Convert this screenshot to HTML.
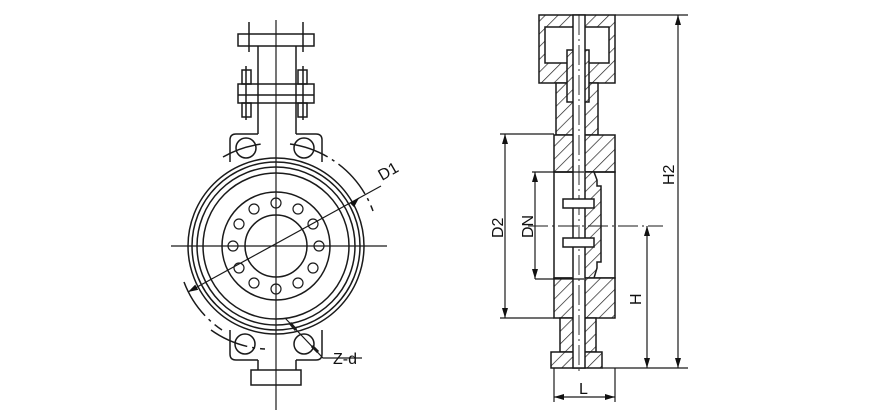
<!DOCTYPE html>
<html><head><meta charset="utf-8"><style>
html,body{margin:0;padding:0;background:#fff;}
svg{display:block;}
text{font-family:"Liberation Sans",sans-serif;fill:#111;}
</style></head><body>
<svg width="890" height="419" viewBox="0 0 890 419" xmlns="http://www.w3.org/2000/svg">
<defs>
<pattern id="h" patternUnits="userSpaceOnUse" width="9" height="9" patternTransform="rotate(45)">
<rect width="9" height="9" fill="#fff"/><line x1="0" y1="0" x2="0" y2="9" stroke="#222" stroke-width="1.4"/>
</pattern>
<marker id="a" markerWidth="10" markerHeight="6" refX="10" refY="3" orient="auto-start-reverse" markerUnits="userSpaceOnUse"><path d="M0,0 L10,3 L0,6 z" fill="#111"/></marker>
</defs>
<g fill="none" stroke="#1a1a1a" stroke-width="1.5">
<!-- LEFT VIEW -->
<rect x="238" y="34" width="76" height="12" fill="#fff"/>
<line x1="249" y1="22" x2="249" y2="52"/><line x1="303" y1="22" x2="303" y2="52"/>
<line x1="258" y1="46" x2="258" y2="134"/><line x1="296" y1="46" x2="296" y2="134"/>
<rect x="238" y="84" width="76" height="19"/><line x1="238" y1="95" x2="314" y2="95"/>
<rect x="242" y="70" width="9" height="14"/><rect x="298" y="70" width="9" height="14"/>
<rect x="242" y="103" width="9" height="14"/><rect x="298" y="103" width="9" height="14"/>
<line x1="246" y1="66" x2="246" y2="120"/><line x1="303" y1="66" x2="303" y2="120"/>
<path d="M258,134 H236 Q230,134 230,140 V162"/><path d="M296,134 H316 Q322,134 322,140 V162"/>
<circle cx="246" cy="148" r="10"/><circle cx="304" cy="148" r="10"/>
<path d="M258,360 H236 Q230,360 230,354 V330"/><path d="M296,360 H316 Q322,360 322,354 V330"/>
<circle cx="245" cy="344" r="10"/><circle cx="304" cy="344" r="10"/>
<line x1="258" y1="360" x2="258" y2="370"/><line x1="296" y1="360" x2="296" y2="370"/>
<rect x="251" y="370" width="50" height="15" fill="#fff"/>
<circle cx="276" cy="246" r="88" fill="#fff"/>
<circle cx="276" cy="246" r="84"/>
<circle cx="276" cy="246" r="79"/>
<circle cx="276" cy="246" r="73"/>
<circle cx="276" cy="246" r="54"/>
<circle cx="276" cy="246" r="31"/>
<g stroke-width="1.2">
<circle cx="319" cy="246" r="5"/><circle cx="313" cy="224" r="5"/><circle cx="298" cy="209" r="5"/>
<circle cx="276" cy="203" r="5"/><circle cx="254" cy="209" r="5"/><circle cx="239" cy="224" r="5"/>
<circle cx="233" cy="246" r="5"/><circle cx="239" cy="268" r="5"/><circle cx="254" cy="283" r="5"/>
<circle cx="276" cy="289" r="5"/><circle cx="298" cy="283" r="5"/><circle cx="313" cy="268" r="5"/>
</g>
<line x1="276" y1="20" x2="276" y2="410" stroke-width="1.2"/>
<line x1="171" y1="246" x2="387" y2="246" stroke-width="1.2"/>
<path d="M223,157 A103,103 0 0 1 262,144" stroke-dasharray="40 5 3 5"/>
<path d="M290,144 A103,103 0 0 1 373,211" stroke-dasharray="40 5 3 5"/>
<path d="M184,282 A100,100 0 0 0 222,330" stroke-dasharray="40 5 3 5"/>
<path d="M211,330 A103,103 0 0 0 265,349" stroke-dasharray="40 5 3 5"/>
<line x1="188" y1="292" x2="381" y2="186" marker-start="url(#a)" stroke-width="1.2"/>
<line x1="358" y1="199" x2="359" y2="198" marker-end="url(#a)" stroke-width="1.2"/>
<polyline points="285,318 323,358 362,358" stroke-width="1.2"/>
<line x1="290" y1="323" x2="296" y2="330" stroke-width="3"/>
<line x1="312" y1="346" x2="318" y2="352" stroke-width="3"/>
<!-- RIGHT VIEW -->
<rect x="539" y="15" width="76" height="68" fill="url(#h)"/>
<rect x="545" y="27" width="64" height="36" fill="#fff"/>
<rect x="556" y="83" width="42" height="52" fill="url(#h)"/>
<rect x="567" y="50" width="22" height="52" fill="url(#h)"/>
<rect x="554" y="135" width="61" height="37" fill="url(#h)"/>
<rect x="554" y="172" width="61" height="106"/>
<path d="M584,172 H594 L597,180 V186 H601 V262 H597 V268 L594,278 H584 Z" fill="url(#h)"/>
<rect x="554" y="278" width="61" height="40" fill="url(#h)"/>
<rect x="560" y="318" width="36" height="34" fill="url(#h)"/>
<rect x="551" y="352" width="51" height="16" fill="url(#h)"/>
<rect x="573" y="15" width="12" height="353" fill="#fff"/>
<line x1="579" y1="15" x2="579" y2="375" stroke-width="0.9" stroke-dasharray="20 4 2 4"/>
<rect x="563" y="199" width="31" height="9" fill="#fff"/>
<rect x="563" y="238" width="31" height="9" fill="#fff"/>
<line x1="528" y1="226" x2="663" y2="226" stroke-width="0.9" stroke-dasharray="20 4 2 4"/>
<!-- dims -->
<g stroke-width="1.2">
<line x1="615" y1="15" x2="688" y2="15"/>
<line x1="602" y1="368" x2="688" y2="368"/>
<line x1="678" y1="15" x2="678" y2="368" marker-start="url(#a)" marker-end="url(#a)"/>
<line x1="647" y1="226" x2="647" y2="368" marker-start="url(#a)" marker-end="url(#a)"/>
<line x1="500" y1="134" x2="554" y2="134"/>
<line x1="500" y1="318" x2="554" y2="318"/>
<line x1="505" y1="134" x2="505" y2="318" marker-start="url(#a)" marker-end="url(#a)"/>
<line x1="532" y1="172" x2="584" y2="172"/>
<line x1="535" y1="279" x2="584" y2="279"/>
<line x1="535" y1="172" x2="535" y2="279" marker-start="url(#a)" marker-end="url(#a)"/>
<line x1="554" y1="368" x2="554" y2="402"/>
<line x1="615" y1="368" x2="615" y2="402"/>
<line x1="554" y1="397" x2="615" y2="397" marker-start="url(#a)" marker-end="url(#a)"/>
</g>
</g>
<g stroke="none" font-size="16">
<text x="0" y="0" transform="translate(382,181) rotate(-30)">D1</text>
<text x="333" y="364">Z-d</text>
<text x="0" y="0" transform="translate(503,238) rotate(-90)">D2</text>
<text x="0" y="0" transform="translate(533,238) rotate(-90)">DN</text>
<text x="0" y="0" transform="translate(641,305) rotate(-90)">H</text>
<text x="0" y="0" transform="translate(674,185) rotate(-90)">H2</text>
<text x="579" y="394">L</text>
</g>
</svg>
</body></html>
